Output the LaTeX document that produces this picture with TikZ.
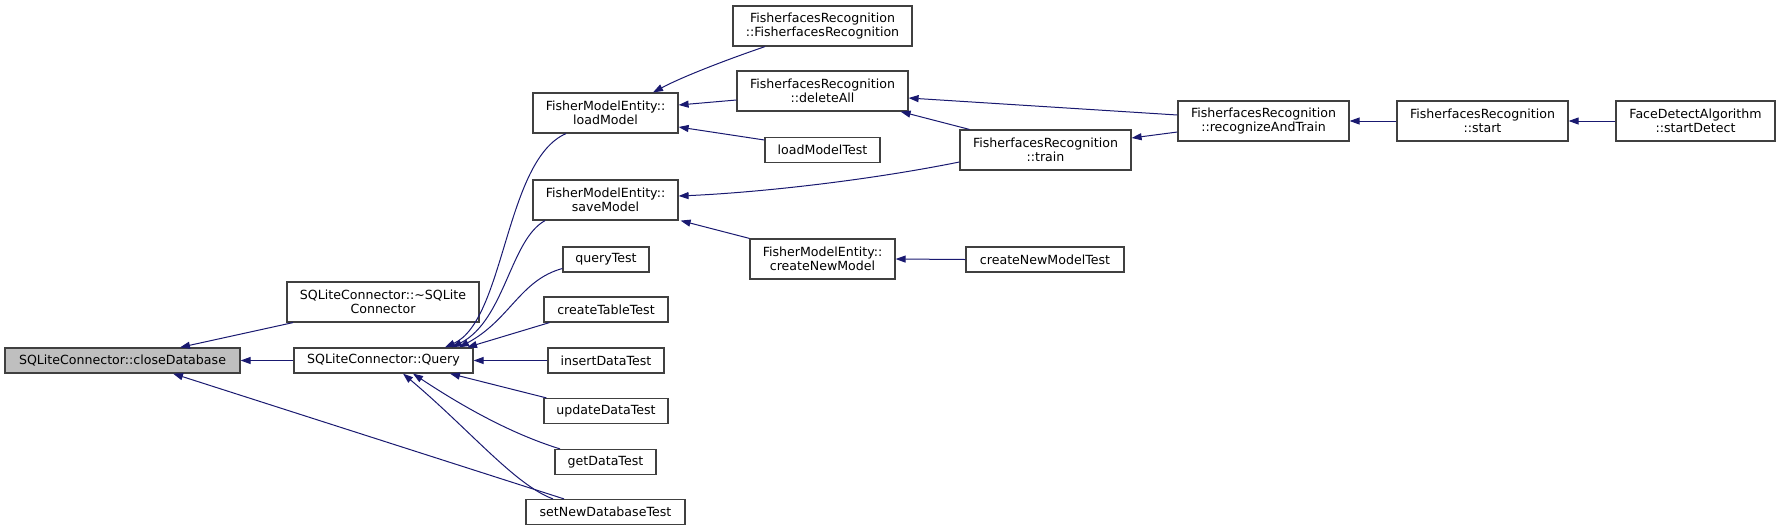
\documentclass[tikz,border=0pt]{standalone}
\usepackage{fontspec}
\setmainfont{DejaVu Sans}
\usetikzlibrary{arrows.meta,calc}
\definecolor{edgec}{HTML}{191970}
\definecolor{boxc}{HTML}{404040}
\definecolor{hl}{HTML}{BFBFBF}
\tikzset{
  box/.style={draw=boxc, line width=1.2pt, fill=white, inner sep=0pt, align=center,
    font=\fontsize{12.6}{14}\selectfont},
  link/.style={draw=edgec, line width=1pt, -{Triangle[length=10pt,width=7pt]}},
}
\begin{document}
\begin{tikzpicture}[x=1pt,y=-1pt]
\useasboundingbox (0,0) rectangle (1780,531);
% nodes
\node[box, fill=hl, minimum width=235pt, minimum height=25pt] (cd) at (122.5,360.5) {SQLiteConnector::closeDatabase};
\node[box, minimum width=192pt, minimum height=40pt] (dtor) at (383,302) {SQLiteConnector::\textasciitilde SQLite\\Connector};
\node[box, minimum width=179pt, minimum height=25pt] (q) at (383.5,360.5) {SQLiteConnector::Query};
\node[box, minimum width=145pt, minimum height=40pt] (lm) at (605.5,113) {FisherModelEntity::\\loadModel};
\node[box, minimum width=145pt, minimum height=40pt] (sm) at (605.5,200) {FisherModelEntity::\\saveModel};
\node[box, minimum width=86pt, minimum height=25pt] (qt) at (606,259.5) {queryTest};
\node[box, minimum width=124pt, minimum height=25pt] (ctt) at (606,309.5) {createTableTest};
\node[box, minimum width=116pt, minimum height=25pt] (idt) at (606,360.5) {insertDataTest};
\node[box, minimum width=124pt, minimum height=25pt] (udt) at (606,411) {updateDataTest};
\node[box, minimum width=101pt, minimum height=25pt] (gdt) at (605.5,462) {getDataTest};
\node[box, minimum width=159pt, minimum height=25pt] (sndt) at (605.5,512) {setNewDatabaseTest};
\node[box, minimum width=179pt, minimum height=40pt] (frfr) at (822.5,26) {FisherfacesRecognition\\::FisherfacesRecognition};
\node[box, minimum width=171pt, minimum height=40pt] (da) at (822.5,91) {FisherfacesRecognition\\::deleteAll};
\node[box, minimum width=115pt, minimum height=25pt] (lmt) at (822.5,150) {loadModelTest};
\node[box, minimum width=145pt, minimum height=40pt] (cnm) at (822.5,259) {FisherModelEntity::\\createNewModel};
\node[box, minimum width=171pt, minimum height=40pt] (tr) at (1045.5,150) {FisherfacesRecognition\\::train};
\node[box, minimum width=158pt, minimum height=25pt] (cnmt) at (1045,259.5) {createNewModelTest};
\node[box, minimum width=171pt, minimum height=40pt] (rat) at (1263.5,121) {FisherfacesRecognition\\::recognizeAndTrain};
\node[box, minimum width=171pt, minimum height=40pt] (st) at (1482.5,121) {FisherfacesRecognition\\::start};
\node[box, minimum width=159pt, minimum height=40pt] (sd) at (1695.5,121) {FaceDetectAlgorithm\\::startDetect};
% edges into closeDatabase
\draw[link] ($(dtor.south)+(-90,0)$) -- ($(cd.north)+(57.5,0)$);
\draw[link] (q.west) -- (cd.east);
\draw[link] ($(sndt.north)+(-41.5,0)$) -- ($(cd.south)+(50.5,0)$);
% edges into Query
\draw[link] ($(lm.south)+(-39.5,0)$) .. controls (505,160) and (505,320) .. ($(q.north)+(61.5,0)$);
\draw[link] ($(sm.south)+(-60.5,0)$) .. controls (510,240) and (505,320) .. ($(q.north)+(68.5,0)$);
\draw[link] ($(qt.west)+(0,9)$) .. controls (520,280) and (510,320) .. ($(q.north)+(75.5,0)$);
\draw[link] ($(ctt.south west)+(6,0)$) -- ($(q.north)+(83.5,0)$);
\draw[link] (idt.west) -- (q.east);
\draw[link] ($(udt.north west)+(3,0)$) -- ($(q.south)+(66.5,0)$);
\draw[link] ($(gdt.north)+(-45.5,0)$) .. controls (525,438) and (480,418) .. ($(q.south)+(29.5,0)$);
\draw[link] ($(sndt.north)+(-52.5,0)$) .. controls (515,485) and (470,430) .. ($(q.south)+(19.5,0)$);
% second level
\draw[link] ($(frfr.south)+(-57.5,0)$) .. controls (720,62) and (680,78) .. ($(lm.north)+(47.5,0)$);
\draw[link] ($(da.west)+(0,9)$) -- ($(lm.east)+(0,-8)$);
\draw[link] ($(lmt.west)+(0,-10)$) -- ($(lm.east)+(0,14)$);
\draw[link] ($(tr.west)+(0,12)$) .. controls (860,182) and (750,193) .. ($(sm.east)+(0,-4)$);
\draw[link] (cnm.north west) -- ($(sm.south east)+(2,0)$);
\draw[link] ($(rat.west)+(0,-6)$) -- ($(da.east)+(0,7)$);
\draw[link] ($(tr.north west)+(10,0)$) -- ($(da.south east)+(-8,0)$);
\draw[link] ($(rat.west)+(0,11)$) -- ($(tr.east)+(0,-12)$);
\draw[link] (st.west) -- (rat.east);
\draw[link] (sd.west) -- (st.east);
\draw[link] (cnmt.west) -- (cnm.east);
\end{tikzpicture}
\end{document}
